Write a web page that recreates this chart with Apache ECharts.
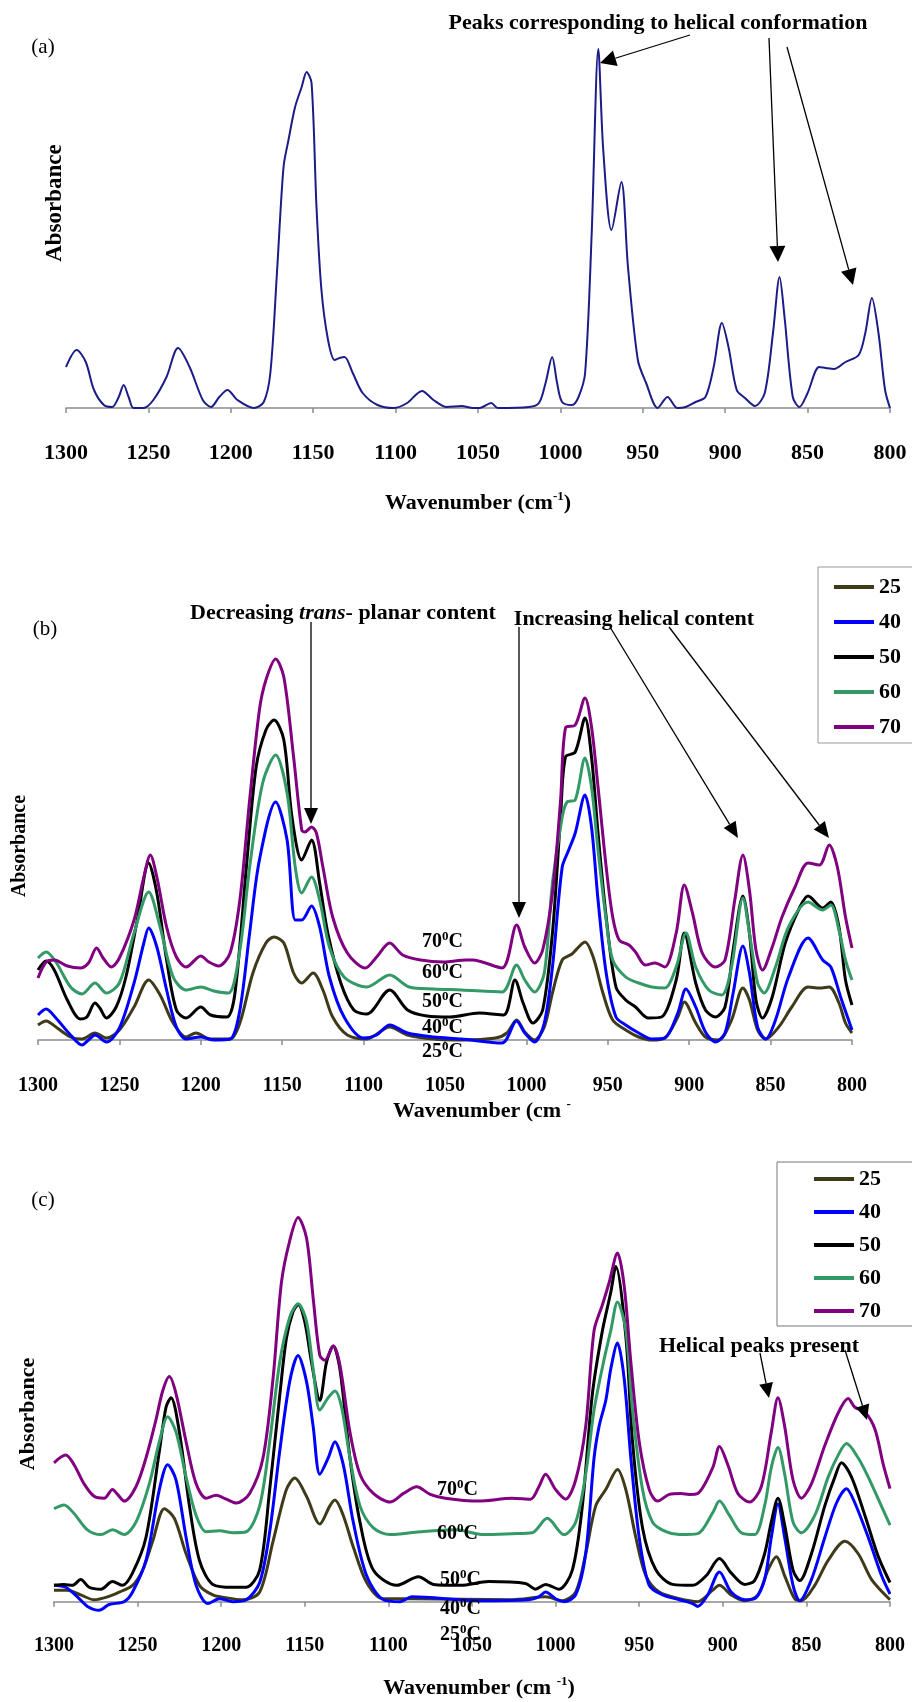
<!DOCTYPE html>
<html><head><meta charset="utf-8">
<script src="https://cdn.jsdelivr.net/npm/echarts@6/dist/echarts.min.js"></script>
<style>html,body{margin:0;padding:0;background:#fff}#chart{width:912px;height:1702px}</style>
</head><body><div id="chart"></div>
<script>
// ---------- DATA (wavenumber cm-1, relative absorbance) ----------
const legendNames = ['25', '40', '50', '60', '70'];

// Panel (a): single spectrum
const a_spectrum = [[1300,41],[1293.5,58],[1288,46],[1283,18],[1277,3],[1272,1],[1268,11],[1265,23],[1262,11],[1259,0],[1253,0],[1247,8],[1239,31],[1232,60],[1225,41],[1217,8],[1212,1],[1207,11],[1202,18],[1196,8],[1186,0],[1180,6],[1176,35],[1172,135],[1168,241],[1165,268],[1161,301],[1157,321],[1154,336],[1151,325],[1148,201],[1145,118],[1141,68],[1137,48],[1134,50],[1131,51],[1126,35],[1120,15],[1111,3],[1101,0],[1093,5],[1084,17],[1077,8],[1069,1],[1060,2],[1053,0],[1049,0],[1042,5],[1038,0],[1019,1],[1013,5],[1009,25],[1005,51],[1002,25],[999,6],[993,3],[989,11],[985,35],[981,175],[977,359],[974,258],[969,178],[963,226],[959,141],[953,48],[948,25],[941,0],[935,11],[929,0],[924,1],[918,6],[912,11],[907,41],[902,85],[898,61],[893,18],[888,10],[882,2],[876,15],[871,75],[867,131],[864,91],[859,11],[855,1],[850,15],[843,41],[839,40],[834,39],[827,46],[819,53],[815,75],[811,110],[807,75],[803,18],[800,0]];

// Panel (b)
const b_25 = [[1300,15],[1295,19],[1289,13],[1280,3],[1273,1],[1265,7],[1258,2],[1250,10],[1241,33],[1232,60],[1225,45],[1217,17],[1209,3],[1203,7],[1194,1],[1182,1],[1176,17],[1168,67],[1160,97],[1155,103],[1149,97],[1143,67],[1138,57],[1131,67],[1125,50],[1119,23],[1110,5],[1098,1],[1084,13],[1073,5],[1057,1],[1040,0],[1019,2],[1012,7],[1006,20],[1001,8],[995,0],[989,13],[984,47],[978,80],[972,86],[964,98],[959,83],[953,47],[947,20],[939,10],[931,3],[923,0],[915,2],[907,23],[903,38],[896,17],[890,3],[882,0],[874,20],[867,52],[863,40],[858,10],[853,1],[845,13],[837,33],[827,53],[820,52],[814,53],[808,37],[804,17],[800,7]];
const b_40 = [[1300,25],[1295,31],[1289,22],[1280,5],[1273,-5],[1269,0],[1265,5],[1258,-2],[1250,12],[1241,57],[1235,97],[1232,112],[1227,93],[1221,50],[1215,13],[1209,1],[1200,3],[1192,0],[1182,1],[1176,30],[1170,107],[1164,180],[1154,238],[1147,200],[1142,120],[1138,120],[1132,134],[1127,113],[1121,63],[1112,23],[1100,2],[1092,5],[1084,15],[1073,7],[1057,3],[1040,1],[1015,-3],[1006,19],[1001,7],[995,-2],[989,17],[984,73],[978,173],[974,190],[970,207],[964,245],[960,213],[956,140],[951,67],[945,23],[939,15],[931,7],[923,1],[915,2],[907,27],[902,51],[896,33],[890,8],[884,-2],[878,7],[873,47],[867,94],[863,67],[858,13],[853,1],[847,20],[839,63],[827,102],[818,80],[813,73],[807,43],[800,10]];
const b_50 = [[1300,70],[1295,79],[1290,70],[1282,40],[1274,21],[1270,23],[1265,37],[1262,32],[1258,22],[1252,33],[1246,63],[1239,120],[1232,177],[1227,147],[1221,80],[1215,30],[1209,22],[1200,33],[1194,25],[1184,23],[1179,47],[1172,173],[1166,273],[1160,310],[1155,320],[1149,300],[1144,223],[1138,180],[1132,200],[1127,157],[1122,107],[1114,57],[1106,30],[1098,26],[1084,50],[1073,30],[1061,24],[1047,23],[1029,27],[1014,25],[1007,60],[1002,37],[996,17],[990,30],[984,107],[979,223],[976,283],[970,288],[964,322],[960,283],[956,207],[951,123],[945,53],[939,40],[933,33],[925,22],[917,23],[908,60],[903,107],[896,57],[890,30],[884,23],[878,33],[873,90],[867,144],[863,107],[859,40],[855,22],[849,43],[841,97],[832,133],[827,144],[818,132],[813,138],[808,113],[804,60],[800,35]];
const b_60 = [[1300,82],[1295,88],[1289,78],[1280,53],[1273,46],[1265,57],[1258,47],[1250,57],[1241,107],[1232,148],[1225,113],[1217,63],[1209,50],[1200,53],[1192,49],[1183,47],[1176,90],[1170,173],[1162,257],[1154,285],[1147,247],[1142,173],[1138,147],[1132,163],[1127,140],[1121,93],[1112,63],[1098,53],[1084,65],[1072,53],[1057,51],[1040,50],[1015,48],[1006,75],[1001,60],[995,48],[989,67],[984,157],[978,223],[975,238],[970,240],[964,282],[960,253],[956,190],[951,120],[947,80],[939,63],[931,57],[923,53],[915,52],[908,73],[902,107],[896,73],[888,50],[880,45],[874,73],[867,142],[863,107],[858,57],[854,47],[847,73],[839,113],[827,138],[818,130],[813,135],[808,110],[804,80],[800,60]];
const b_70 = [[1300,62],[1295,78],[1290,80],[1282,74],[1274,72],[1269,77],[1264,92],[1260,82],[1255,73],[1250,82],[1241,120],[1235,163],[1231,185],[1227,163],[1221,113],[1215,83],[1209,73],[1200,84],[1195,78],[1189,74],[1182,87],[1176,140],[1170,240],[1164,330],[1160,360],[1154,381],[1149,363],[1143,283],[1138,210],[1136,208],[1132,213],[1129,207],[1125,173],[1119,123],[1110,87],[1099,72],[1092,83],[1084,97],[1076,85],[1065,80],[1051,78],[1037,80],[1033,80],[1015,72],[1006,115],[1001,93],[995,77],[990,90],[984,147],[979,240],[976,312],[970,315],[964,342],[960,313],[956,253],[951,173],[947,123],[943,100],[937,95],[933,88],[927,75],[921,77],[915,73],[908,107],[903,155],[898,127],[892,87],[884,73],[878,80],[872,140],[867,185],[863,150],[859,90],[855,70],[849,93],[843,123],[835,153],[827,177],[820,175],[814,195],[809,173],[804,123],[800,92]];

// Panel (c)
const c_25 = [[1300,12],[1292,12],[1284,7],[1276,2],[1268,5],[1261,10],[1253,17],[1247,33],[1241,63],[1234,97],[1228,87],[1221,50],[1213,17],[1205,7],[1197,4],[1187,2],[1177,10],[1169,63],[1161,117],[1156,129],[1149,110],[1141,81],[1135,100],[1132,106],[1127,90],[1121,57],[1113,20],[1103,3],[1086,3],[1026,2],[1006,5],[996,1],[988,10],[982,50],[976,100],[970,117],[963,138],[958,117],[952,67],[946,27],[938,10],[926,3],[915,0],[906,12],[902,17],[895,7],[887,1],[879,7],[873,33],[868,47],[863,27],[857,3],[853,1],[845,17],[837,43],[827,63],[819,50],[811,23],[800,2]];
const c_40 = [[1300,17],[1293,15],[1286,5],[1280,-5],[1273,-9],[1267,-3],[1258,0],[1253,10],[1245,43],[1237,117],[1232,143],[1227,127],[1221,67],[1215,17],[1208,-2],[1201,3],[1193,0],[1185,2],[1177,20],[1171,73],[1165,157],[1159,230],[1154,257],[1149,230],[1145,183],[1141,133],[1136,150],[1132,167],[1127,143],[1121,83],[1113,27],[1103,2],[1093,0],[1086,5],[1046,1],[1016,2],[1010,5],[1006,10],[1000,3],[995,0],[988,7],[982,50],[977,150],[974,183],[970,210],[967,243],[963,270],[959,233],[955,150],[950,67],[944,17],[936,7],[926,2],[918,-2],[915,-5],[909,7],[902,31],[895,10],[887,2],[881,3],[875,23],[871,67],[867,102],[863,67],[858,17],[854,1],[847,23],[839,67],[832,103],[826,118],[821,103],[813,67],[805,27],[800,8]];
const c_50 = [[1300,17],[1294,18],[1289,17],[1284,23],[1279,15],[1272,13],[1265,21],[1259,17],[1253,30],[1245,67],[1237,157],[1233,203],[1230,213],[1225,177],[1219,100],[1213,43],[1205,18],[1193,15],[1185,15],[1177,33],[1171,117],[1165,215],[1161,275],[1157,303],[1154,310],[1150,292],[1146,250],[1141,210],[1137,250],[1133,267],[1129,243],[1123,150],[1117,83],[1109,33],[1095,17],[1082,26],[1073,18],[1057,17],[1040,21],[1018,19],[1012,13],[1006,18],[998,13],[990,33],[984,100],[978,217],[972,283],[967,323],[964,350],[958,277],[954,167],[948,77],[940,33],[930,18],[918,17],[910,27],[902,45],[895,30],[887,18],[881,22],[875,50],[871,83],[867,108],[863,80],[858,33],[854,22],[847,50],[839,100],[833,130],[829,145],[823,130],[815,90],[807,47],[800,20]];
const c_60 = [[1300,97],[1294,101],[1288,92],[1280,75],[1272,70],[1265,75],[1258,70],[1251,83],[1243,123],[1237,167],[1232,193],[1227,177],[1221,130],[1215,90],[1209,73],[1201,74],[1193,72],[1185,73],[1177,100],[1171,167],[1165,250],[1159,297],[1154,311],[1149,293],[1145,243],[1141,200],[1136,213],[1132,220],[1128,203],[1123,150],[1117,100],[1109,77],[1099,70],[1081,73],[1060,75],[1043,70],[1026,71],[1014,72],[1005,87],[995,70],[988,83],[982,133],[977,200],[971,253],[967,283],[963,313],[958,283],[954,200],[948,117],[942,83],[934,73],[926,70],[915,71],[906,93],[902,105],[896,90],[889,72],[881,70],[875,100],[871,140],[867,161],[863,133],[858,83],[853,72],[845,90],[837,130],[831,153],[826,165],[819,150],[813,130],[807,107],[800,80]];
const c_70 = [[1300,145],[1293,153],[1288,143],[1282,123],[1276,110],[1270,108],[1265,117],[1262,112],[1258,105],[1251,120],[1245,150],[1239,190],[1235,220],[1231,235],[1227,217],[1221,167],[1215,123],[1209,108],[1203,111],[1197,107],[1191,103],[1183,113],[1175,150],[1169,233],[1164,333],[1159,377],[1154,401],[1149,380],[1145,317],[1141,257],[1138,252],[1133,267],[1129,247],[1123,177],[1117,133],[1109,113],[1099,104],[1091,113],[1083,120],[1075,112],[1066,108],[1046,105],[1026,108],[1015,107],[1010,120],[1006,133],[1000,117],[994,107],[988,127],[982,183],[977,283],[972,310],[968,333],[963,364],[959,330],[955,250],[950,167],[944,117],[939,105],[932,112],[925,113],[920,112],[915,113],[906,140],[902,162],[897,143],[891,113],[884,104],[877,120],[871,177],[867,213],[863,183],[858,127],[853,108],[847,123],[839,163],[831,197],[825,212],[821,203],[815,198],[809,180],[804,143],[800,118]];

// ---------- STYLE ----------
const FONT = 'Liberation Serif';
const colors = {'25': '#3f3b1a', '40': '#0000ff', '50': '#000000', '60': '#339966', '70': '#800080'};
const panelB = {'25': b_25, '40': b_40, '50': b_50, '60': b_60, '70': b_70};
const panelC = {'25': c_25, '40': c_40, '50': c_50, '60': c_60, '70': c_70};

function xAxisCfg(gi, fs, margin, name, gap, padLeft) {
  return {
    type: 'value', gridIndex: gi, inverse: true, min: 800, max: 1300, interval: 50,
    axisLine: {show: true, onZero: true, lineStyle: {color: '#8c8c8c', width: 1.5}},
    axisTick: {show: true, length: 5, lineStyle: {color: '#8c8c8c', width: 1.5}},
    splitLine: {show: false},
    axisLabel: {margin: margin, fontFamily: FONT, fontSize: fs, fontWeight: 'bold', color: '#000', formatter: v => String(v)},
    name: name, nameLocation: 'middle', nameGap: gap,
    nameTextStyle: {fontFamily: FONT, fontSize: 22, fontWeight: 'bold', color: '#000', lineHeight: 26, padding: [0, 0, 0, padLeft],
      rich: {s: {fontFamily: FONT, fontSize: 13, fontWeight: 'bold', color: '#000', lineHeight: 13, verticalAlign: 'top'}}}
  };
}

const series = [{
  name: 'spectrum', type: 'line', xAxisIndex: 0, yAxisIndex: 0, data: a_spectrum,
  smooth: 0.3, showSymbol: false, lineStyle: {color: '#1c1c88', width: 2}, itemStyle: {color: '#1c1c88'}
}];
legendNames.forEach(n => series.push({name: n, type: 'line', xAxisIndex: 1, yAxisIndex: 1, data: panelB[n],
  smooth: 0.3, showSymbol: false, lineStyle: {color: colors[n], width: 3}, itemStyle: {color: colors[n]}}));
legendNames.forEach(n => series.push({name: n, type: 'line', xAxisIndex: 2, yAxisIndex: 2, data: panelC[n],
  smooth: 0.3, showSymbol: false, lineStyle: {color: colors[n], width: 3}, itemStyle: {color: colors[n]}}));

// ---------- ANNOTATIONS ----------
function txt(x, y, text, size, opts) {
  opts = opts || {};
  return {type: 'text', x: x, y: y, rotation: opts.rot || 0, z: 100,
    style: {text: text, fontFamily: FONT, fontSize: size, fontWeight: opts.weight || 'bold', fill: '#000',
      align: opts.align || 'center', verticalAlign: 'middle', lineHeight: opts.lh || size + 2,
      rich: opts.rich}};
}
function arrow(x1, y1, x2, y2, L, W) {
  L = L || 15; W = W || 7;
  const dx = x2 - x1, dy = y2 - y1, len = Math.hypot(dx, dy);
  const ux = dx / len, uy = dy / len, bx = x2 - ux * L, by = y2 - uy * L, px = -uy, py = ux;
  return [
    {type: 'line', z: 100, shape: {x1: x1, y1: y1, x2: bx, y2: by}, style: {stroke: '#000', lineWidth: 1.3}},
    {type: 'polygon', z: 100, shape: {points: [[x2, y2], [bx + px * W, by + py * W], [bx - px * W, by - py * W]]}, style: {fill: '#000'}}
  ];
}
const supRich = {s: {fontFamily: FONT, fontSize: 13, fontWeight: 'bold', fill: '#000', lineHeight: 12, verticalAlign: 'top'}};
const graphics = [
  txt(43, 47, '(a)', 21, {weight: 'normal'}),
  txt(45, 629, '(b)', 21, {weight: 'normal'}),
  txt(43, 1200, '(c)', 21, {weight: 'normal'}),
  txt(55, 203, 'Absorbance', 23, {rot: Math.PI / 2}),
  txt(20, 846, 'Absorbance', 20, {rot: Math.PI / 2}),
  txt(28, 1414, 'Absorbance', 22, {rot: Math.PI / 2}),
  txt(658, 23, 'Peaks corresponding to helical conformation', 22),
  txt(343, 613, 'Decreasing {i|trans}- planar content', 22,
    {rich: {i: {fontFamily: FONT, fontSize: 22, fontWeight: 'bold', fontStyle: 'italic', fill: '#000'}}}),
  txt(634, 619, 'Increasing helical content', 22),
  txt(759, 1346, 'Helical peaks present', 22),
  ...arrow(690, 35, 600, 63, 16, 8),
  ...arrow(769, 38, 778, 262, 16, 8),
  ...arrow(787, 47, 853, 285, 16, 8),
  ...arrow(311, 622, 311, 824, 16, 7),
  ...arrow(519, 627, 519, 918, 16, 7),
  ...arrow(610, 627, 738, 838, 16, 7),
  ...arrow(669, 627, 829, 838, 16, 7),
  ...arrow(760, 1353, 769, 1398, 15, 7),
  ...arrow(845, 1350, 867, 1420, 15, 7)
];
const tempLabelsB = [['70', 422, 942], ['60', 422, 973], ['50', 422, 1002], ['40', 422, 1028], ['25', 422, 1052]];
const tempLabelsC = [['70', 437, 1490], ['60', 437, 1534], ['50', 440, 1580], ['40', 440, 1609], ['25', 440, 1635]];
tempLabelsB.concat(tempLabelsC).forEach(t => graphics.push(txt(t[1], t[2], t[0] + '{s|0}C', 20, {align: 'left', lh: 24, rich: supRich})));

const legendText = {fontFamily: FONT, fontSize: 22, fontWeight: 'bold', color: '#000', lineHeight: 22};

const option = {
  animation: false,
  backgroundColor: '#fff',
  grid: [
    {left: 66, right: 22, top: 38, height: 380},
    {left: 38, right: 60, top: 640, height: 415},
    {left: 54, right: 22, top: 1209, height: 425}
  ],
  xAxis: [
    xAxisCfg(0, 22, 24, 'Wavenumber (cm{s|-1})', 72, 0),
    xAxisCfg(1, 20, 21, 'Wavenumber (cm {s|-}', 43, 74),
    xAxisCfg(2, 20, 20, 'Wavenumber (cm {s|-1})', 59, 14)
  ],
  yAxis: [
    {type: 'value', gridIndex: 0, min: -10, max: 370, show: false},
    {type: 'value', gridIndex: 1, min: -15, max: 400, show: false},
    {type: 'value', gridIndex: 2, min: -15, max: 410, show: false}
  ],
  legend: [
    {data: legendNames, orient: 'vertical', left: 818, top: 567, icon: 'rect', itemWidth: 40, itemHeight: 4,
      itemGap: 13, padding: [9, 30, 5, 16], borderColor: '#999', borderWidth: 1, textStyle: legendText, selectedMode: false},
    {data: legendNames, orient: 'vertical', left: 777, top: 1162, icon: 'rect', itemWidth: 40, itemHeight: 4,
      itemGap: 11, padding: [6, 40, 4, 37], borderColor: '#777', borderWidth: 1, textStyle: legendText, selectedMode: false}
  ],
  series: series,
  graphic: graphics
};
const chart = echarts.init(document.getElementById('chart'), null, {renderer: 'canvas'});
chart.setOption(option);
</script>
</body></html>
